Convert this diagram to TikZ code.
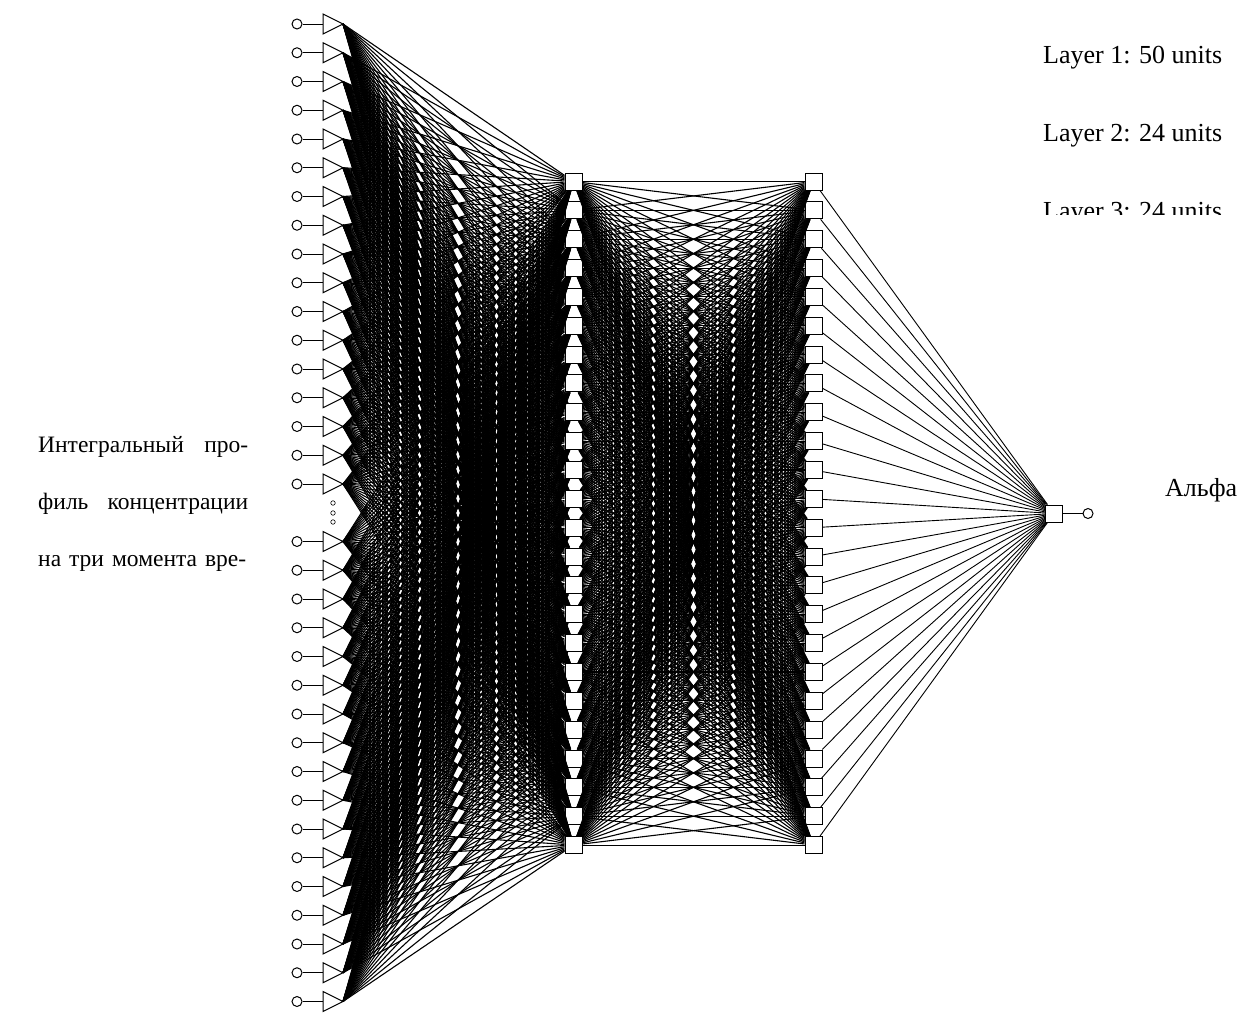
\documentclass[tikz,border=0pt]{standalone}
\usepackage{fontspec}
\setmainfont{Liberation Serif}
\begin{document}
\begin{tikzpicture}[x=1pt,y=-1pt,
  wire/.style={line width=0.9pt},
  densewire/.style={line width=1.1pt},
  unitbox/.style={draw,fill=white,line width=1pt,minimum size=17pt,inner sep=0pt},
  port/.style={draw,fill=white,circle,line width=1pt,minimum size=10pt,inner sep=0pt},
  gapdot/.style={draw,circle,line width=0.6pt,minimum size=4.5pt,inner sep=0pt},
  caption/.style={inner sep=0pt,anchor=base west,font=\fontsize{26}{30}\selectfont},
  remark/.style={inner sep=0pt,anchor=base west,font=\fontsize{23.5}{28}\selectfont}]

\useasboundingbox (0,0) rectangle (1244,1014);

% input units: port circle, stub and triangle (slot 17 is the gap)
\foreach \k in {0,...,34}{
  \ifnum\k=17\relax\else
    \pgfmathsetmacro\yy{24+\k*28.75}
    \node[port] (in\k) at (297,\yy) {};
    \coordinate (b\k) at (323,\yy);
    \coordinate (a\k) at (343,\yy);
    \draw[wire] (in\k) -- (b\k);
    \draw[line width=1pt,fill=white] (323,\yy-10) -- (a\k) -- (323,\yy+10) -- cycle;
  \fi
}

% dots standing for the inputs not drawn
\node[gapdot] (g1) at (333,503) {};
\node[gapdot] (g2) at (333,513) {};
\node[gapdot] (g3) at (333,522) {};

% hidden layers
\foreach \j in {0,...,23}{
  \pgfmathsetmacro\yy{181.5+\j*28.85}
  \node[unitbox] (h\j) at (573.5,\yy) {};
  \node[unitbox] (o\j) at (813.5,\yy) {};
}
\node[unitbox] (out) at (1054,513.5) {};
\node[port] (res) at (1088,513.5) {};

% full connections
\foreach \k in {0,...,34}{
  \ifnum\k=17\relax\else
    \foreach \j in {0,...,23}{\draw[densewire] (a\k) -- (h\j);}
  \fi
}
\foreach \i in {0,...,23}{
  \foreach \j in {0,...,23}{\draw[densewire] (h\i) -- (o\j);}
}
\foreach \j in {0,...,23}{\draw[wire] (o\j) -- (out);}
\draw[wire] (out) -- (res);

% captions
\node[caption] (l1) at (1043,64) {Layer 1: 50 units};
\node[caption] (l2) at (1043,142) {Layer 2: 24 units};
\begin{scope}
  \clip (1000,0) rectangle (1244,214);
  \node[caption] (l3) at (1043,219) {Layer 3: 24 units};
\end{scope}
\node[remark] (t1) at (38,452) {\makebox[210pt][s]{Интегральный про-}};
\node[remark] (t2) at (38,509) {\makebox[210pt][s]{филь концентрации}};
\node[remark] (t3) at (38,566) {\makebox[208pt][s]{на три момента вре-}};
\node[caption] (alpha) at (1165,496) {Альфа};
\end{tikzpicture}
\end{document}
